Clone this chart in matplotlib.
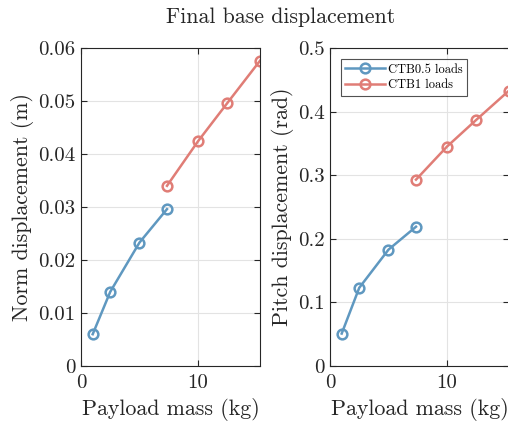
import matplotlib
matplotlib.use("Agg")
import matplotlib.pyplot as plt

plt.rcParams['font.family'] = ['cmr10', 'DejaVu Serif']
plt.rcParams['mathtext.fontset'] = 'cm'
plt.rcParams['axes.formatter.use_mathtext'] = True

mass_a = [1.0, 2.5, 5.0, 7.35]
mass_b = [7.35, 10.0, 12.5, 15.3]
norm_a = [0.0060, 0.0140, 0.0233, 0.0296]
norm_b = [0.0340, 0.0424, 0.0496, 0.0576]
pitch_a = [0.051, 0.123, 0.183, 0.219]
pitch_b = [0.293, 0.345, 0.387, 0.433]
series_labels = ['CTB0.5 loads', 'CTB1 loads']

c_blue = '#5f98c0'
c_red = '#e07d76'

W, H = 508, 423
fig = plt.figure(figsize=(W / 100, H / 100), dpi=100)

ax1 = fig.add_axes([81 / W, 1 - 366 / H, 179 / W, 318 / H])
ax2 = fig.add_axes([330 / W, 1 - 366 / H, 179 / W, 318 / H])

def style(ax, ylim, yticks, yticklabels, ylabel):
    ax.set_xlim(0, 15.3)
    ax.set_ylim(*ylim)
    ax.set_xticks([0, 10])
    ax.set_xticklabels(['0', '10'])
    ax.set_yticks(yticks)
    ax.set_yticklabels(yticklabels)
    ax.grid(True, color='#e3e3e3', linewidth=0.8)
    ax.set_axisbelow(True)
    ax.tick_params(direction='in', top=True, right=True, length=4, width=0.8,
                   colors='#262626', labelsize=15, pad=4)
    ax.tick_params(axis='x', pad=6)
    for s in ax.spines.values():
        s.set_color('#262626')
        s.set_linewidth(0.8)
    ax.set_xlabel('Payload mass (kg)', fontsize=15.8, color='#262626', labelpad=4)
    ax.set_ylabel(ylabel, fontsize=15.8, color='#262626', labelpad=3)

kw = dict(marker='o', markersize=7, markerfacecolor='none', markeredgewidth=1.8,
          linewidth=1.8)
ax1.plot(mass_a, norm_a, color=c_blue, **kw)
ax1.plot(mass_b, norm_b, color=c_red, **kw)
style(ax1, (0, 0.06), [0, 0.01, 0.02, 0.03, 0.04, 0.05, 0.06],
      ['0', '0.01', '0.02', '0.03', '0.04', '0.05', '0.06'], 'Norm displacement (m)')

ax2.plot(mass_a, pitch_a, color=c_blue, label=series_labels[0], **kw)
ax2.plot(mass_b, pitch_b, color=c_red, label=series_labels[1], **kw)
style(ax2, (0, 0.5), [0, 0.1, 0.2, 0.3, 0.4, 0.5],
      ['0', '0.1', '0.2', '0.3', '0.4', '0.5'], 'Pitch displacement (rad)')

leg = ax2.legend(loc='upper left', bbox_to_anchor=(11 / 179, 1 - 11 / 318), fontsize=9,
                 frameon=True, fancybox=False, edgecolor='#262626',
                 handlelength=3.2, borderpad=0.35, labelspacing=0.3,
                 handletextpad=0.2, borderaxespad=0)
leg.get_frame().set_linewidth(0.8)

fig.text(281 / W, 1 - 17 / H, 'Final base displacement', ha='center', va='center',
         fontsize=15.8, color='#262626')

fig.savefig('out.png', dpi=100)
